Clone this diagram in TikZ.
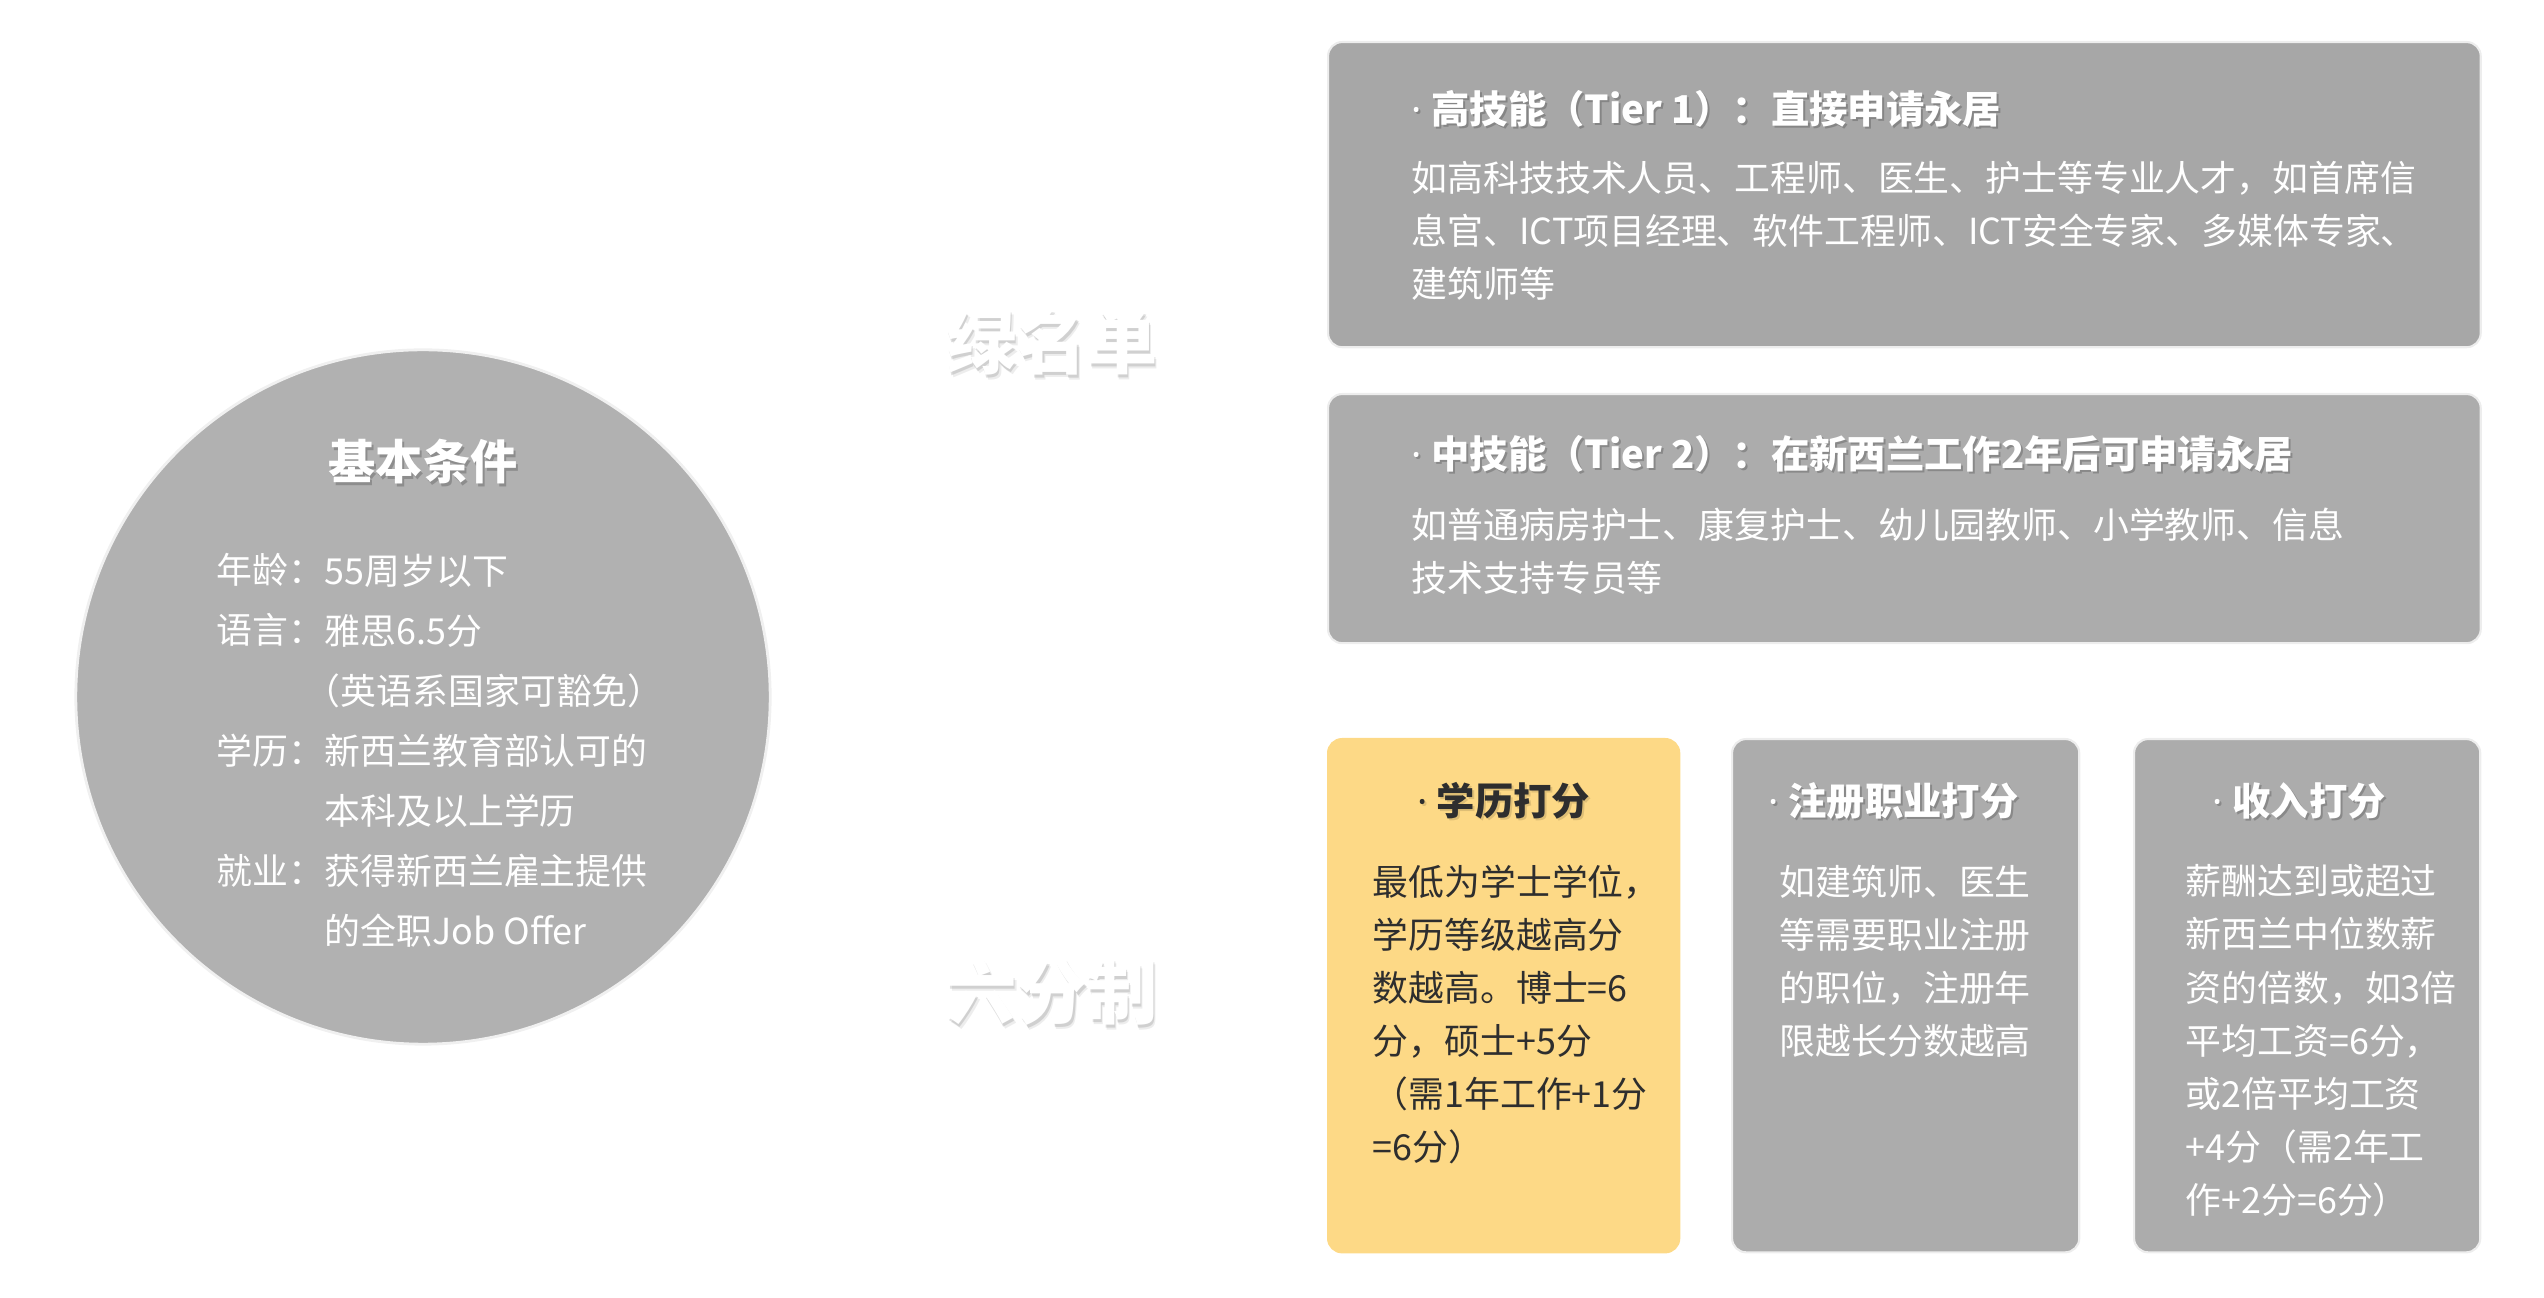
\documentclass[tikz,border=0pt]{standalone}
\usepackage{fontspec}
\setmainfont{Noto Sans CJK SC}
\newfontfamily\dotfont{Noto Sans}
\usepackage{xcolor}
\usetikzlibrary{positioning,calc}
\definecolor{circgray}{HTML}{B1B1B1}
\definecolor{tiergray}{HTML}{A7A7A7}
\definecolor{cardgray}{HTML}{ACACAC}
\definecolor{eduyellow}{HTML}{FDD986}
\definecolor{darktext}{HTML}{2E2E2E}
\newcommand{\hdot}{{\dotfont ·}\kern0.25em}

\begin{document}
\begin{tikzpicture}[x=0.01cm, y=-0.01cm,
  card/.style={draw=black!7, line width=0.6pt, rounded corners=4pt, anchor=north west, inner sep=0pt},
  body/.style={anchor=north west, inner sep=0pt, align=left, text=white, font=\fontsize{10.2}{15.1}\selectfont},
  head/.style={inner sep=0pt, text=white, font=\fontsize{10.9}{13}\selectfont\bfseries},
  big/.style={inner sep=0pt, text=white, font=\fontsize{20}{24}\selectfont\bfseries},
  shade/.style={text=black, opacity=0.2}]
\useasboundingbox (0,0) rectangle (2544,1298);

% basic conditions
\node[circle, draw=black!6, line width=0.8pt, fill=circgray, minimum size=6.94cm, inner sep=0pt] (circ) at (423,697) {};
\node[head, shade, font=\fontsize{13.4}{16}\selectfont\bfseries] (ctitleshade) at ($(circ.center)+(2,-232)$) {基本条件};
\node[head, font=\fontsize{13.4}{16}\selectfont\bfseries] (ctitle) at ($(circ.center)+(0,-235)$) {基本条件};
\node[body, font=\fontsize{10.2}{17.07}\selectfont] (clabels) at (216,553)
  {年龄：\\语言：\\\mbox{}\\学历：\\\mbox{}\\就业：};
\node[body, font=\fontsize{10.2}{17.07}\selectfont] (cvalues) at (324,553)
  {55周岁以下\\雅思6.5分\\\kern-0.55em（英语系国家可豁免）\\新西兰教育部认可的\\本科及以上学历\\获得新西兰雇主提供\\的全职Job Offer};

% side labels
\coordinate (greenpos) at (1052,342);
\coordinate (sixpos) at (1052,992);
\foreach \d/\o in {2/0.12,4/0.07}
  \node[big, text=black, opacity=\o] (greenshade\d) at ($(greenpos)+(\d*0.7,\d*1.2)$) {绿名单};
\foreach \d/\o in {2/0.12,4/0.07}
  \node[big, text=black, opacity=\o] (sixshade\d) at ($(sixpos)+(\d*0.7,\d*1.2)$) {六分制};
\node[big] (green) at (greenpos) {绿名单};
\node[big] (six) at (sixpos) {六分制};

% green list
\node[card, fill=tiergray, minimum width=11.52cm, minimum height=3.05cm] (tier1) at (1327,41) {};
\node[head, shade, anchor=west] (tier1headshade) at ($(tier1.north west)+(86,70)$) {\hdot 高技能（Tier 1）：直接申请永居};
\node[head, anchor=west] (tier1head) at ($(tier1.north west)+(84,68)$) {\hdot 高技能（Tier 1）：直接申请永居};
\node[body] (tier1body) at ($(tier1.north west)+(84,119)$)
  {如高科技技术人员、工程师、医生、护士等专业人才，如首席信\\息官、ICT项目经理、软件工程师、ICT安全专家、多媒体专家、\\建筑师等};

\node[card, fill=cardgray, minimum width=11.52cm, minimum height=2.49cm] (tier2) at (1327,393) {};
\node[head, shade, anchor=west] (tier2headshade) at ($(tier2.north west)+(86,63)$) {\hdot 中技能（Tier 2）：在新西兰工作2年后可申请永居};
\node[head, anchor=west] (tier2head) at ($(tier2.north west)+(84,61)$) {\hdot 中技能（Tier 2）：在新西兰工作2年后可申请永居};
\node[body] (tier2body) at ($(tier2.north west)+(84,114)$)
  {如普通病房护士、康复护士、幼儿园教师、小学教师、信息\\技术支持专员等};

% six point system
\node[card, draw=eduyellow, fill=eduyellow, minimum width=3.51cm, minimum height=5.13cm] (edu) at (1327,738) {};
\node[head, text=black, opacity=0.12] (eduheadshade) at ($(edu.north)+(2,65)$) {\hdot 学历打分};
\node[head, text=darktext] (eduhead) at ($(edu.north)+(0,63)$) {\hdot 学历打分};
\node[body, text=darktext] (edubody) at ($(edu.north west)+(45,126)$)
  {最低为学士学位，\\学历等级越高分\\数越高。博士=6\\分，硕士+5分\\（需1年工作+1分\\=6分）};

\node[card, fill=cardgray, minimum width=3.47cm, minimum height=5.13cm] (reg) at (1731,738) {};
\node[head, shade] (regheadshade) at ($(reg.north)+(-10,65)$) {\hdot 注册职业打分};
\node[head] (reghead) at ($(reg.north)+(-12,63)$) {\hdot 注册职业打分};
\node[body] (regbody) at ($(reg.north west)+(48,126)$)
  {如建筑师、医生\\等需要职业注册\\的职位，注册年\\限越长分数越高};

\node[card, fill=cardgray, minimum width=3.46cm, minimum height=5.13cm] (inc) at (2133,738) {};
\node[head, shade] (incheadshade) at ($(inc.north)+(-6,65)$) {\hdot 收入打分};
\node[head] (inchead) at ($(inc.north)+(-8,63)$) {\hdot 收入打分};
\node[body] (incbody) at ($(inc.north west)+(52,126)$)
  {薪酬达到或超过\\新西兰中位数薪\\资的倍数，如3倍\\平均工资=6分，\\或2倍平均工资\\+4分（需2年工\\作+2分=6分）};
\end{tikzpicture}
\end{document}
